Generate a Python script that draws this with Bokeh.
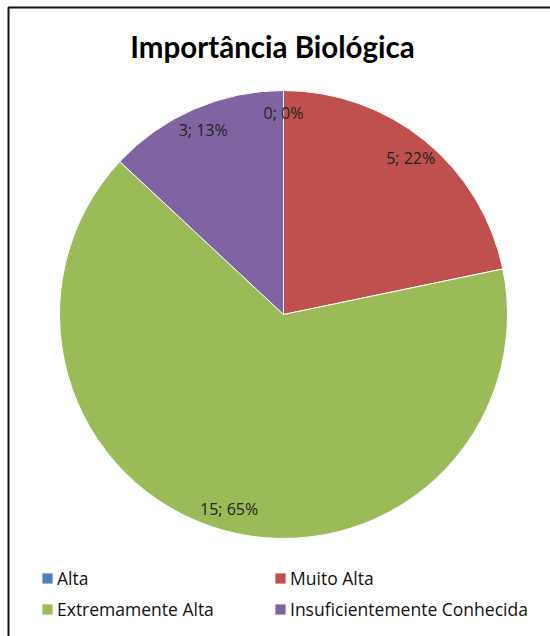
import numpy as np
from bokeh.plotting import figure
from bokeh.models import ColumnDataSource, Range1d, Legend, LegendItem
from bokeh.core.properties import value
from bokeh.embed import file_html
from bokeh.resources import INLINE

# ---- data ----
categories = ["Alta", "Muito Alta", "Extremamente Alta", "Insuficientemente Conhecida"]
counts = [0, 5, 15, 3]
colors = ["#4F81BD", "#C0504D", "#9BBB59", "#8064A2"]
title_text = "Importância Biológica"

W, H = 550, 636
TFONT = "Lato"
FONT = "Open Sans"

p = figure(width=W, height=H, x_range=Range1d(0, W), y_range=Range1d(0, H),
           output_backend="svg", toolbar_location=None, min_border=0)
p.axis.visible = False
p.grid.visible = False
p.outline_line_color = None
p.background_fill_color = "white"
p.border_fill_color = "white"

# pie geometry (pixel units)
cx, cy, r = 283, H - 314, 224
total = sum(counts)
cum = np.cumsum([0] + counts)
start = np.pi / 2 - 2 * np.pi * cum[:-1] / total
end = np.pi / 2 - 2 * np.pi * cum[1:] / total
mid = (start + end) / 2
lr = 0.9 * r
labels = [f"{c}; {round(100 * c / total)}%" for c in counts]

src = ColumnDataSource(dict(cat=categories, count=counts, color=colors,
                            start=start, end=end,
                            lx=cx + lr * np.cos(mid), ly=cy + lr * np.sin(mid),
                            label=labels))

wr = p.wedge(x=cx, y=cy, radius=r, start_angle="start", end_angle="end",
             direction="clock", fill_color="color", line_color="white",
             line_width=1, source=src)

p.text(x="lx", y="ly", text="label", source=src, text_align="center",
       text_baseline="middle", text_font=value(FONT), text_font_size="16px",
       text_color="#222222")

# title
p.text(x=[272], y=[H - 46], text=[title_text], text_align="center",
       text_baseline="middle", text_font=value(TFONT), text_font_size="29.5px",
       text_font_style="bold", text_color="#000000")

# chart border (left and top edges visible)
p.line(x=[8, 8, W], y=[0, H - 7, H - 7], line_color="#111111", line_width=2)

items = [LegendItem(label=categories[i], renderers=[wr], index=i) for i in range(len(categories))]
legend = Legend(items=items, location=(40, 15), orientation="horizontal", ncols=2,
                glyph_width=14, glyph_height=14, label_standoff=3,
                label_width=210, label_height=25, spacing=6, padding=0, margin=0,
                border_line_color=None, background_fill_alpha=0,
                label_text_font=FONT, label_text_font_size="17.5px",
                label_text_color="#111111")
p.add_layout(legend)

open("out.html", "w").write(file_html(p, INLINE))
